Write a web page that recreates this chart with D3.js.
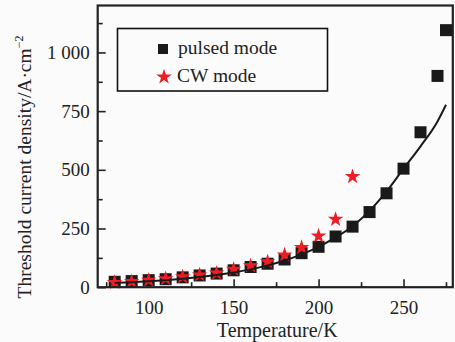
<!DOCTYPE html>
<html><head><meta charset="utf-8">
<script src="https://cdn.jsdelivr.net/npm/d3@7"></script>
<style>
html,body{margin:0;padding:0;background:#fbfbfb;}
svg{display:block;}
text{font-family:"Liberation Serif","Times New Roman",serif;fill:#222;}
</style></head>
<body>
<script>
// ---- data ----
const pulsedT = [80,90,100,110,120,130,140,150,160,170,180,190,200,210,220,230,240,250,260,270,275];
const pulsedJ = [23,26,30,34,42,50,58,72,86,100,118,145,172,216,258,320,400,505,660,900,1095];
const cwT = [80,90,100,110,120,130,140,150,160,170,180,190,200,210,220];
const cwJ = [20,24,30,36,44,52,60,76,91,108,137,169,218,289,471];
const fitT = [80,90,100,110,120,130,140,150,160,170,180,190,200,210,220,230,240,250,260,270,275];
const fitJ = [18,21,25,30,36,43,52,63,76,93,114,140,172,212,260,325,408,505,600,706,777];
const xTicks = [100,150,200,250];
const xMinor = [75,125,175,225,275];
const yTicks = [0,250,500,750,1000];
const yMinor = [125,375,625,875,1125];
const legendLabels = ["pulsed mode","CW mode"];
const xTitle = "Temperature/K";
const yTitle = "Threshold current density/A\u00B7cm";

const W = 455, H = 342;
const L = 97.7, R = 452.8, T = 5.5, B = 287.2;
const RED = "#ee1d25", BLK = "#1a1a1a";

const svg = d3.select("body").append("svg").attr("width", W).attr("height", H);

const x = d3.scaleLinear().domain([70, 279]).range([L, R]);
const y = d3.scaleLinear().domain([0, 1200]).range([B, T]);

const loc = d3.formatLocale({decimal:".", thousands:" ", grouping:[3], currency:["",""]});
const fmt = loc.format(",");

// axes
const gx = svg.append("g").attr("transform", `translate(0,${B})`)
  .call(d3.axisBottom(x).tickValues(xTicks).tickSizeInner(-8).tickSizeOuter(0).tickPadding(13).tickFormat(d => d));
const gxm = svg.append("g").attr("transform", `translate(0,${B})`)
  .call(d3.axisBottom(x).tickValues(xMinor).tickSizeInner(-5).tickSizeOuter(0).tickFormat(""));
const gy = svg.append("g").attr("transform", `translate(${L},0)`)
  .call(d3.axisLeft(y).tickValues(yTicks).tickSizeInner(-8).tickSizeOuter(0).tickPadding(8).tickFormat(fmt));
const gym = svg.append("g").attr("transform", `translate(${L},0)`)
  .call(d3.axisLeft(y).tickValues(yMinor).tickSizeInner(-5).tickSizeOuter(0).tickFormat(""));
[gx,gxm,gy,gym].forEach(g => {
  g.select(".domain").remove();
  g.selectAll(".tick line").attr("stroke", "#222").attr("stroke-width", 1.6);
  g.selectAll(".tick text").attr("font-size", 19).attr("fill", "#222")
    .style("font-family", '"Liberation Serif", serif');
});

// fit line
const line = d3.line().x((d,i) => x(fitT[i])).y((d,i) => y(fitJ[i])).curve(d3.curveMonotoneX);

// squares
svg.append("g").selectAll("path").data(pulsedT).join("path")
  .attr("transform", (d,i) => `translate(${x(d)},${y(pulsedJ[i])})`)
  .attr("d", d3.symbol(d3.symbolSquare, 144)())
  .attr("fill", BLK);

// stars
svg.append("g").selectAll("path").data(cwT).join("path")
  .attr("transform", (d,i) => `translate(${x(d)},${y(cwJ[i])})`)
  .attr("d", d3.symbol(d3.symbolStar, 75)())
  .attr("fill", RED);

svg.append("path").datum(fitJ).attr("d", line)
  .attr("fill", "none").attr("stroke", BLK).attr("stroke-width", 2);

// frame
svg.append("rect").attr("x", L).attr("y", T).attr("width", R - L).attr("height", B - T)
  .attr("fill", "none").attr("stroke", "#222").attr("stroke-width", 2.2);

// legend
svg.append("rect").attr("x", 117.5).attr("y", 28.5).attr("width", 210).attr("height", 62.5)
  .attr("fill", "none").attr("stroke", "#111").attr("stroke-width", 1.6);
svg.append("path").attr("transform", "translate(163,49)")
  .attr("d", d3.symbol(d3.symbolSquare, 100)()).attr("fill", BLK);
svg.append("path").attr("transform", "translate(164,77)")
  .attr("d", d3.symbol(d3.symbolStar, 75)()).attr("fill", RED);
svg.append("text").attr("x", 178).attr("y", 53.5).attr("font-size", 19.5).text(legendLabels[0]);
svg.append("text").attr("x", 177).attr("y", 82).attr("font-size", 19.5).text(legendLabels[1]);

// axis titles
svg.append("text").attr("x", (L + R) / 2 + 2).attr("y", 336.5).attr("text-anchor", "middle")
  .attr("font-size", 20).text(xTitle);
const yt = svg.append("text").attr("transform", "translate(31,167) rotate(-90)")
  .attr("text-anchor", "middle").attr("font-size", 19.5);
yt.append("tspan").text(yTitle);
yt.append("tspan").attr("font-size", 12).attr("dy", -8).text("\u22122");
</script>
</body></html>
